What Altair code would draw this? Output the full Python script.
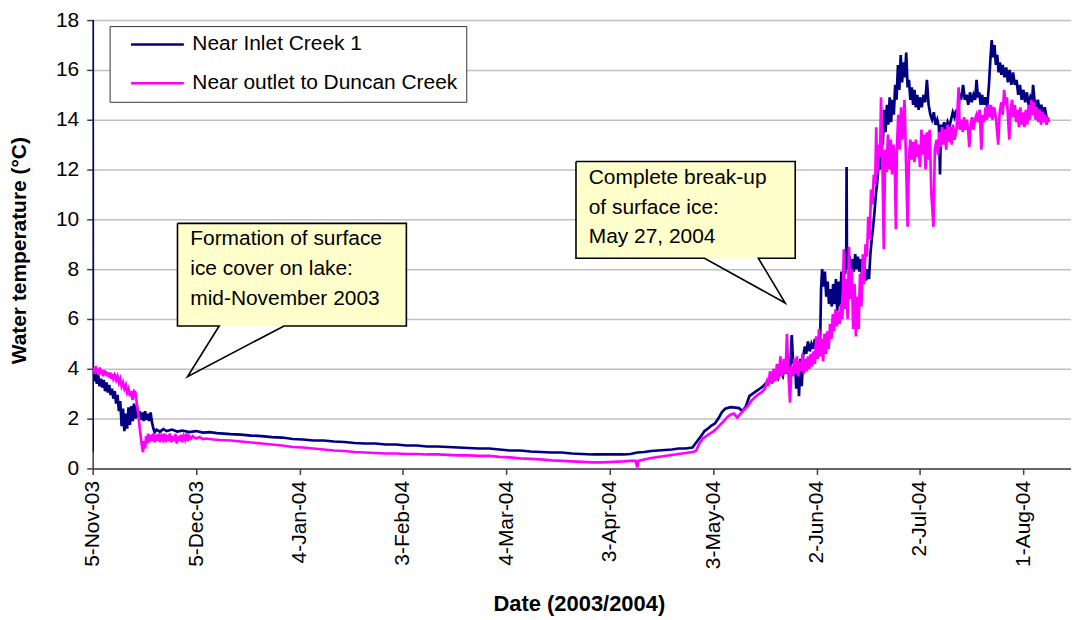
import json
import altair as alt
import pandas as pd

# ---------------- data ----------------
series_names = ["Near Inlet Creek 1", "Near outlet to Duncan Creek"]
series_colors = ["#000080", "#FF00FF"]

# days since 5-Nov-2003
inlet_day = [0, 0.02, 0.05, 0.4, 0.8, 1.2, 1.6, 2.0, 2.4, 2.8, 3.2, 3.6, 4.0, 4.4, 4.8, 5.2, 5.6, 6.0, 6.4, 6.8,
             7.2, 7.6, 8.0, 8.4, 8.8, 9.2, 9.6, 10.0, 10.4, 10.8, 11.2, 11.6, 12.0, 12.4, 12.8, 13.2, 13.6, 14.0,
             14.4, 14.8, 15.2, 15.6, 16.0, 16.4, 16.8, 17.2, 17.6, 18.0, 18.5, 19.5, 20.5, 21.5, 23, 24.5, 26, 28,
             30, 32, 34, 36, 38, 40, 43, 46, 49, 52, 55, 58, 61, 64, 67, 70, 73, 76, 79, 82, 85, 88, 91, 94, 97,
             100, 103, 106, 109, 112, 115, 118, 121, 124, 127, 130, 133, 136, 139, 142, 145, 148, 151, 154, 156,
             158, 160, 162, 164, 166, 168, 170, 172, 174, 175.4, 176.5, 177.5, 178.5, 179.5, 180.5, 181.5, 182.5,
             183.5, 185, 186.5, 187.5, 188.5, 189.5, 190.5, 191.5, 192.5, 193.5, 194.5, 195.5, 196.5, 197.3, 198,
             198.8, 199.5, 200.2, 200.8, 201.3, 201.8, 202.3, 202.8, 203.2, 203.7, 204.1, 204.5, 204.9, 205.3,
             205.7, 206.1, 206.6, 207.0, 207.5, 208.0, 208.5, 209.0, 209.5, 210.0, 210.5, 211.0, 211.3, 211.6,
             212.0, 212.4, 212.8, 213.2, 213.6, 214.0, 214.4, 214.8, 215.2, 215.6, 216.0, 216.4, 216.8, 217.2,
             217.6, 218.0, 218.3, 218.6, 218.7, 218.8, 219.2, 219.6, 220.0, 220.4, 220.8, 221.2, 221.6, 222.0,
             222.4, 222.8, 223.2, 223.6, 224.0, 224.4, 224.8, 225.2, 225.6, 226.0, 226.4, 226.8, 227.2, 227.6,
             228.0, 228.4, 228.8, 229.2, 229.6, 230.0, 230.4, 230.8, 231.2, 231.6, 232.0, 232.4, 232.8, 233.2,
             233.6, 234.0, 234.4, 234.8, 235.2, 235.6, 236.0, 236.4, 236.8, 237.2, 237.6, 238.0, 238.4, 238.8,
             239.2, 239.6, 240.0, 240.5, 241.0, 241.5, 242.0, 242.5, 243.0, 243.5, 244.0, 244.5, 245.0, 245.5,
             245.8, 246.1, 246.5, 247.0, 247.5, 248.0, 248.5, 249.0, 249.5, 250.0, 250.5, 251.0, 251.5, 252.0,
             252.5, 253.0, 253.5, 254.0, 254.5, 255.0, 255.5, 256.0, 256.4, 256.8, 257.2, 257.6, 258.0, 258.5,
             259.0, 259.5, 260.0, 260.4, 260.8, 261.2, 261.6, 262.0, 262.4, 262.8, 263.2, 263.6, 264.0, 264.5,
             265.0, 265.5, 266.0, 266.5, 267.0, 267.5, 268.0, 268.5, 269.0, 269.5, 270.0, 270.5, 271.0, 271.5,
             272.0, 272.5, 272.8, 273.2, 273.7, 274.2, 274.7, 275.2, 275.7, 276.2, 276.7, 277.2]
inlet_temp = [0.65, 18.0, 3.7, 3.5, 3.85, 3.4, 3.75, 3.3, 3.6, 3.25, 3.55, 3.1, 3.45, 3.05, 3.35, 2.95, 3.2, 2.8,
              3.1, 2.6, 2.95, 2.3, 2.7, 1.7, 2.4, 1.5, 2.2, 1.6, 2.45, 1.75, 2.5, 1.9, 2.6, 2.0, 2.5, 2.05, 2.3,
              1.95, 2.25, 1.9, 2.3, 1.95, 2.2, 1.9, 2.25, 1.85, 1.6, 1.45, 1.55, 1.48, 1.58, 1.5, 1.56, 1.48, 1.52,
              1.46, 1.5, 1.44, 1.46, 1.42, 1.4, 1.38, 1.36, 1.32, 1.3, 1.26, 1.24, 1.18, 1.16, 1.12, 1.12, 1.08,
              1.06, 1.02, 1.0, 1.0, 0.96, 0.96, 0.92, 0.92, 0.88, 0.88, 0.86, 0.84, 0.82, 0.8, 0.8, 0.76, 0.72,
              0.72, 0.68, 0.66, 0.64, 0.64, 0.6, 0.58, 0.56, 0.56, 0.56, 0.56, 0.58, 0.64, 0.66, 0.7, 0.72, 0.74,
              0.76, 0.8, 0.8, 0.84, 1.1, 1.3, 1.5, 1.6, 1.72, 1.8, 2.0, 2.25, 2.4, 2.46, 2.44, 2.42, 2.3, 2.5, 2.9,
              3.0, 3.1, 3.2, 3.3, 3.45, 3.6, 3.5, 3.75, 3.6, 3.9, 3.7, 4.1, 3.8, 4.2, 3.9, 5.35, 4.2, 4.4, 3.2, 4.3,
              2.9, 4.4, 3.3, 4.5, 4.9, 4.6, 5.1, 4.7, 5.0, 4.8, 5.2, 4.8, 5.0, 4.9, 7.2, 8.0, 7.3, 7.9, 6.9, 7.5,
              6.6, 7.2, 6.5, 7.4, 6.6, 7.6, 6.3, 7.5, 6.5, 7.9, 7.2, 8.3, 7.8, 8.6, 12.1, 8.6, 8.0, 8.5, 7.8, 8.4,
              7.9, 8.6, 8.0, 8.5, 7.9, 8.4, 7.7, 8.3, 7.8, 7.55, 8.0, 7.6, 8.6, 9.2, 9.7, 10.3, 11.0, 11.5, 12.3,
              12.0, 13.2, 13.0, 14.4, 13.5, 14.6, 13.8, 14.9, 13.9, 14.8, 14.2, 15.4, 14.8, 16.2, 15.2, 16.6, 15.5,
              16.3, 15.7, 16.7, 15.3, 15.6, 14.8, 15.3, 14.6, 15.2, 14.5, 15.0, 14.4, 14.9, 14.5, 15.0, 14.7, 15.6,
              14.6, 14.2, 14.0, 14.3, 13.8, 14.0, 13.7, 11.8, 13.8, 13.6, 13.9, 13.6, 13.9, 13.7, 14.0, 14.3, 14.1,
              14.4, 14.1, 15.0, 14.9, 15.4, 14.8, 15.0, 14.6, 15.1, 14.7, 15.0, 14.8, 15.6, 14.9, 15.1, 14.6, 15.0,
              14.6, 14.9, 14.5, 15.4, 16.4, 17.2, 16.5, 17.0, 16.2, 16.6, 15.9, 16.3, 15.8, 16.2, 15.7, 16.1, 15.5,
              16.0, 15.4, 15.9, 15.4, 15.6, 15.0, 15.4, 14.8, 15.2, 14.7, 15.1, 14.6, 14.9, 14.7, 15.4, 14.8, 14.5,
              14.8, 14.3, 14.6, 14.2, 14.5, 14.1, 14.0]

outlet_day = [0, 0.3, 0.6, 0.9, 1.2, 1.5, 1.8, 2.1, 2.4, 2.7, 3.0, 3.3, 3.6, 3.9, 4.2, 4.5, 4.8, 5.1, 5.4, 5.7,
              6.0, 6.4, 6.8, 7.2, 7.6, 8.0, 8.4, 8.8, 9.2, 9.6, 10.0, 10.4, 10.8, 11.2, 11.6, 12.0, 12.4, 12.8,
              13.2, 13.6, 14.0, 14.4, 14.6, 14.9, 15.2, 15.5, 15.8, 16.1, 16.4, 16.8, 17.2, 17.6, 18.0, 18.4, 18.8,
              19.2, 19.6, 20.0, 20.4, 20.8, 21.2, 21.6, 22.0, 22.4, 22.8, 23.2, 23.6, 24.0, 24.4, 24.8, 25.2, 25.6,
              26.0, 26.4, 26.8, 27.2, 27.6, 28.0, 28.5, 29.0, 30, 31, 32, 33, 35, 37, 40, 43, 46, 49, 52, 55, 58,
              61, 64, 67, 70, 73, 76, 79, 82, 85, 88, 91, 94, 97, 100, 103, 106, 109, 112, 115, 118, 121, 124, 127,
              130, 133, 136, 139, 142, 145, 148, 151, 154, 156, 157.5, 158.0, 158.3, 160, 162, 164, 166, 168, 170,
              172, 174, 175, 176, 177, 178, 179, 180, 181, 182, 183, 184, 185, 186, 187, 188, 189, 190, 191, 192,
              193, 194, 195, 195.6, 196, 196.5, 197, 197.5, 198, 198.5, 199, 199.5, 200, 200.5, 201, 201.4, 201.8,
              202.3, 202.7, 203.1, 203.5, 203.9, 204.3, 204.7, 205.1, 205.5, 205.9, 206.3, 206.7, 207.1, 207.5,
              207.9, 208.3, 208.7, 209.1, 209.5, 209.9, 210.3, 210.7, 211.1, 211.5, 211.9, 212.3, 212.7, 213.1,
              213.5, 213.9, 214.3, 214.7, 215.1, 215.5, 215.9, 216.3, 216.7, 217.1, 217.5, 217.9, 218.2, 218.6,
              219.0, 219.4, 219.8, 220.2, 220.6, 221.0, 221.4, 221.8, 222.2, 222.6, 223.0, 223.4, 223.8, 224.2,
              224.6, 225.0, 225.4, 225.8, 226.2, 226.6, 227.0, 227.3, 227.6, 228.0, 228.4, 228.7, 229.0, 229.5,
              229.9, 230.3, 230.7, 231.1, 231.5, 231.9, 232.3, 232.7, 233.0, 233.3, 233.7, 234.1, 234.5, 234.9,
              235.5, 235.9, 236.4, 236.8, 237.2, 237.6, 238.0, 238.4, 238.8, 239.2, 239.6, 240.0, 240.4, 240.8,
              241.2, 241.6, 242.0, 242.4, 242.8, 243.3, 243.9, 244.3, 244.8, 245.2, 245.6, 246.0, 246.4, 246.8,
              247.2, 247.6, 248.0, 248.4, 248.8, 249.2, 249.6, 250.0, 250.6, 251.2, 251.5, 252.0, 252.4, 252.8,
              253.2, 253.6, 254.0, 254.3, 254.7, 255.1, 255.5, 255.9, 256.4, 256.8, 257.3, 257.8, 258.2, 258.6,
              259.0, 259.4, 259.8, 260.2, 260.6, 261.0, 261.5, 262.0, 262.7, 263.1, 263.6, 264.0, 264.4, 264.8,
              265.2, 265.9, 266.3, 266.7, 267.1, 267.5, 267.9, 268.3, 268.7, 269.1, 269.5, 269.9, 270.3, 270.7,
              271.1, 271.5, 271.9, 272.3, 272.7, 273.1, 273.5, 273.9, 274.3, 274.7, 275.1, 275.5, 275.9, 276.3,
              276.7, 277.1, 277.5]
outlet_temp = [3.9, 4.05, 3.8, 4.1, 3.85, 4.0, 3.75, 4.05, 3.8, 3.95, 3.7, 3.95, 3.75, 3.9, 3.7, 3.85, 3.65, 3.85,
               3.6, 3.8, 3.6, 3.75, 3.55, 3.7, 3.45, 3.6, 3.3, 3.45, 3.2, 3.35, 3.05, 3.2, 2.9, 3.1, 2.75, 3.1,
               3.05, 2.6, 2.2, 1.7, 1.2, 0.8, 0.65, 1.1, 0.8, 1.3, 1.0, 1.4, 1.05, 1.35, 1.1, 1.4, 1.05, 1.35, 1.1,
               1.4, 1.05, 1.3, 1.15, 1.4, 1.05, 1.35, 1.1, 1.4, 1.05, 1.3, 1.1, 1.38, 1.0, 1.3, 1.1, 1.35, 1.05,
               1.3, 1.15, 1.4, 1.1, 1.3, 1.2, 1.3, 1.2, 1.25, 1.18, 1.2, 1.16, 1.14, 1.12, 1.08, 1.04, 1.0, 0.96,
               0.92, 0.86, 0.84, 0.8, 0.76, 0.72, 0.7, 0.66, 0.64, 0.62, 0.6, 0.6, 0.58, 0.58, 0.56, 0.56, 0.54,
               0.52, 0.52, 0.5, 0.5, 0.46, 0.44, 0.4, 0.38, 0.36, 0.32, 0.3, 0.28, 0.26, 0.24, 0.24, 0.26, 0.28,
               0.3, 0.3, 0.04, 0.3, 0.36, 0.42, 0.46, 0.5, 0.54, 0.58, 0.62, 0.66, 0.7, 1.0, 1.2, 1.3, 1.4, 1.48,
               1.6, 1.75, 1.88, 2.05, 2.16, 2.2, 2.04, 2.2, 2.36, 2.5, 2.7, 2.85, 2.96, 3.05, 3.2, 3.5, 3.3, 3.9,
               3.4, 4.0, 3.5, 4.2, 3.6, 4.5, 3.7, 4.4, 3.8, 5.4, 3.9, 2.64, 4.1, 3.7, 4.4, 3.8, 4.5, 3.7, 4.3, 3.9,
               4.6, 3.8, 4.4, 3.9, 4.5, 4.0, 4.6, 4.1, 4.7, 4.2, 5.3, 4.4, 5.6, 4.5, 5.2, 4.3, 5.4, 4.6, 5.5, 4.8,
               5.8, 5.2, 6.2, 5.5, 6.4, 5.7, 6.3, 5.8, 6.6, 6.0, 8.8, 6.4, 7.6, 6.0, 8.9, 6.8, 8.0, 5.6, 7.4, 5.3,
               6.9, 5.6, 7.8, 6.5, 8.6, 7.4, 9.0, 8.5, 10.1, 9.2, 11.2, 10.6, 11.8, 11.4, 13.7, 11.8, 13.0, 12.5,
               14.9, 13.2, 8.8, 12.8, 11.9, 13.4, 12.0, 13.2, 11.8, 13.0, 12.2, 9.6, 12.9, 14.2, 12.8, 14.5, 13.2,
               14.8, 12.6, 9.7, 12.5, 13.2, 12.4, 13.1, 12.3, 13.2, 12.5, 13.0, 12.1, 13.6, 12.6, 13.4, 12.0, 13.5,
               12.4, 13.6, 11.0, 9.7, 12.8, 13.2, 12.6, 13.5, 12.9, 13.7, 13.0, 13.6, 12.8, 13.8, 13.1, 13.7, 13.0,
               13.8, 13.2, 13.6, 15.3, 13.6, 14.0, 13.5, 14.1, 13.6, 14.0, 13.5, 12.9, 13.8, 14.1, 13.6, 14.0, 14.2,
               13.9, 14.4, 12.8, 14.2, 13.9, 14.5, 14.0, 14.6, 14.1, 14.6, 14.0, 14.5, 14.1, 13.0, 14.3, 14.7, 14.2,
               15.2, 14.6, 14.9, 13.2, 14.4, 14.8, 14.1, 14.6, 13.9, 14.4, 13.7, 14.5, 13.8, 14.3, 13.7, 14.4, 13.8,
               14.6, 14.0, 14.8, 14.2, 14.7, 14.0, 14.5, 13.9, 14.4, 13.8, 14.3, 13.9, 14.2, 13.8, 14.1, 13.9]

x_tick_days = [0, 30, 60, 90, 120, 150, 180, 210, 240, 270]
x_tick_labels = ["5-Nov-03", "5-Dec-03", "4-Jan-04", "3-Feb-04", "4-Mar-04",
                 "3-Apr-04", "3-May-04", "2-Jun-04", "2-Jul-04", "1-Aug-04"]
y_ticks = [0, 2, 4, 6, 8, 10, 12, 14, 16, 18]
x_domain = [0, 283.8]
y_domain = [0, 18]

callout_lines_1 = ["Formation of surface", "ice cover on lake:", "mid-November 2003"]
callout_lines_2 = ["Complete break-up", "of surface ice:", "May 27, 2004"]
# callout geometry in data units: box (x0, x1, y0, y1), tail base (xa, xb) on box bottom, tip (xt, yt)
callout_box = [(24.6, 91.0, 5.72, 9.84), (140.2, 203.8, 8.44, 12.32)]
callout_tail = [(36.7, 55.5, 27.5, 3.68), (177.5, 193.1, 200.9, 6.64)]
callout_text_x = [28.3, 143.9]
callout_text_y = [[9.2, 8.0, 6.8], [11.64, 10.44, 9.28]]

FONT = "Liberation Sans"

# ---------------- tables ----------------
inlet_df = pd.DataFrame({"day": inlet_day, "temp": inlet_temp, "series": series_names[0]})
inlet_df["i"] = range(len(inlet_df))
outlet_df = pd.DataFrame({"day": outlet_day, "temp": outlet_temp, "series": series_names[1]})
outlet_df["i"] = range(len(outlet_df))

xs = alt.Scale(domain=x_domain, nice=False, zero=False)
ys = alt.Scale(domain=y_domain, nice=False, zero=False)

label_expr = json.dumps(x_tick_labels) + "[round(datum.value / 30)]"

x_axis = alt.Axis(values=x_tick_days, labelExpr=label_expr, labelAngle=270, labelFlush=False,
                  labelOverlap=False, labelBound=False, labelFontSize=21, labelPadding=6,
                  tickSize=6, grid=False, title="Date (2003/2004)", titleFontSize=22,
                  titleFontWeight="bold", titleX=488, titleY=136, titleBaseline="middle")
y_axis = alt.Axis(values=y_ticks, labelFontSize=21, labelPadding=8, tickSize=6, labelFlush=False,
                  grid=True, gridColor="#C0C0C0", gridWidth=1.5,
                  title="Water temperature (°C)", titleFontSize=21, titleFontWeight="bold",
                  titleX=-73, titleY=231, titleBaseline="middle")

color = alt.Color("series:N",
                  scale=alt.Scale(domain=series_names, range=series_colors),
                  legend=alt.Legend(orient="none", legendX=17, legendY=6, title=None,
                                    fillColor="white", strokeColor="#333333", padding=8,
                                    symbolType="M-5,0H5", symbolSize=112.36, symbolStrokeWidth=2.5,
                                    symbolOffset=29.5, labelOffset=24.5, labelFontSize=21,
                                    labelFont=FONT, labelColor="black", labelLimit=0,
                                    rowPadding=17))


def line_layer(df):
    return alt.Chart(df).mark_line(strokeWidth=2.7, clip=True).encode(
        x=alt.X("day:Q", scale=xs, axis=x_axis),
        y=alt.Y("temp:Q", scale=ys, axis=y_axis),
        color=color,
        order=alt.Order("i:Q"),
    )


# callouts
box_rows, tri_rows, out_rows, txt_rows = [], [], [], []
for k in range(2):
    x0, x1, y0, y1 = callout_box[k]
    xa, xb, xt, yt = callout_tail[k]
    box_rows.append({"x0": x0, "x1": x1, "y0": y0, "y1": y1})
    # triangle as an area: vertices sorted by x, upper/lower edges
    pts = sorted([(xa, y0), (xb, y0), (xt, yt)])
    (ax, ay), (mx, my), (bx, by) = pts
    other = ay + (by - ay) * (mx - ax) / (bx - ax)
    for j, (px, hi, lo) in enumerate([(ax, ay, ay), (mx, max(my, other), min(my, other)), (bx, by, by)]):
        tri_rows.append({"id": k, "x": px, "hi": hi, "lo": lo, "o": j})
    path = [(x0, y1), (x1, y1), (x1, y0), (xb, y0), (xt, yt), (xa, y0), (x0, y0), (x0, y1)]
    for j, (px, py) in enumerate(path):
        out_rows.append({"id": k, "x": px, "y": py, "o": j})
    lines = callout_lines_1 if k == 0 else callout_lines_2
    for j, t in enumerate(lines):
        txt_rows.append({"x": callout_text_x[k], "y": callout_text_y[k][j], "t": t})

box_layer = alt.Chart(pd.DataFrame(box_rows)).mark_rect(fill="#FFFFCC", strokeWidth=0).encode(
    x=alt.X("x0:Q", scale=xs), x2="x1:Q", y=alt.Y("y0:Q", scale=ys), y2="y1:Q")
tri_layer = alt.Chart(pd.DataFrame(tri_rows)).mark_area(fill="#FFFFCC", orient="vertical",
                                                        strokeWidth=0, opacity=1).encode(
    x=alt.X("x:Q", scale=xs), y=alt.Y("hi:Q", scale=ys), y2="lo:Q", detail="id:N",
    order=alt.Order("o:Q"))
out_layer = alt.Chart(pd.DataFrame(out_rows)).mark_line(color="black", strokeWidth=1.6).encode(
    x=alt.X("x:Q", scale=xs), y=alt.Y("y:Q", scale=ys), detail="id:N", order=alt.Order("o:Q"))
txt_layer = alt.Chart(pd.DataFrame(txt_rows)).mark_text(
    align="left", baseline="middle", fontSize=21, font=FONT, color="black").encode(
    x=alt.X("x:Q", scale=xs), y=alt.Y("y:Q", scale=ys), text="t:N")

chart = alt.layer(
    line_layer(inlet_df), line_layer(outlet_df), box_layer, tri_layer, out_layer, txt_layer
).properties(
    width=982, height=450,
    autosize=alt.AutoSizeParams(type="none"),
    padding={"left": 85, "top": 11, "right": 0, "bottom": 150},
    background="white",
).configure_view(stroke=None).configure_axis(
    labelFont=FONT, titleFont=FONT, labelColor="black", titleColor="black",
    domainColor="#404040", domainWidth=1.5, tickColor="#404040", tickWidth=1.5,
)

chart.save("out.html", embed_options={"renderer": "svg", "actions": False})
